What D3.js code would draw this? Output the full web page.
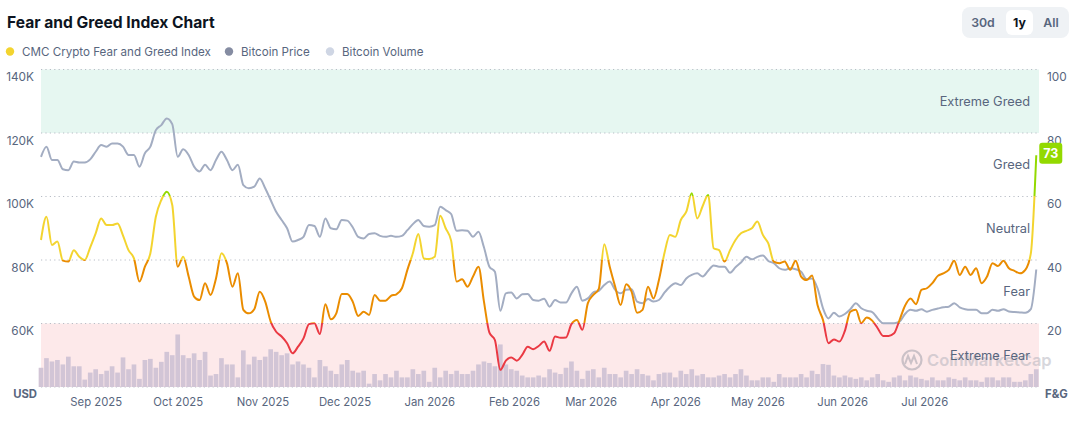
<!DOCTYPE html>
<html><head><meta charset="utf-8">
<script src="https://cdn.jsdelivr.net/npm/d3@7"></script>
<style>
html,body{margin:0;padding:0;background:#fff;}
svg{display:block;font-family:Inter,"Noto Sans",sans-serif;}
</style></head>
<body><svg id="c" width="1077" height="446"></svg>
<script>
// ---- data (2-day samples starting 2025-08-12) ----
const startDate = "2025-08-12";
const fearGreed = [46.3,53.6,44.7,45.8,39.8,39.5,43.1,41.0,40.0,44.0,48.4,53.1,51.0,51.0,51.5,47.7,43.1,40.5,33.2,37.9,42.1,53.6,58.9,61.5,57.3,37.9,41.0,34.8,28.5,27.4,32.7,29.0,34.2,42.1,39.0,31.6,35.8,24.3,23.2,24.5,30.0,26.9,20.6,17.4,15.9,13.8,
10.6,12.7,15.3,19.8,20.1,16.7,26.1,21.3,23.2,29.3,29.3,26.9,22.4,23.7,22.7,29.0,27.2,27.2,28.7,29.2,31.1,36.9,42.1,48.2,40.5,40.3,41.0,53.9,50.0,46.1,33.2,33.9,31.6,34.8,37.9,26.9,17.1,14.8,5.4,8.3,9.3,8.3,10.1,12.7,11.9,12.9,
14.3,11.4,15.9,15.5,15.6,19.8,21.1,18.0,26.4,29.0,30.9,45.0,37.9,31.6,25.8,32.4,30.0,23.4,24.3,31.6,27.9,33.7,42.1,47.9,47.3,52.6,55.2,61.0,53.1,57.0,60.5,43.7,43.1,39.5,43.1,46.3,48.4,49.2,50.0,52.1,47.9,45.2,39.5,39.0,39.5,36.9,
39.8,34.8,33.7,35.1,25.8,21.1,13.8,15.0,14.3,17.7,23.7,24.3,20.1,21.9,20.9,18.5,16.1,16.1,16.9,21.1,25.6,27.9,26.1,30.6,31.1,32.7,35.0,35.8,36.9,39.8,35.3,37.9,35.3,37.4,32.7,34.8,39.0,38.1,39.8,37.4,36.6,35.8,36.9,42.0,73];
const btcPriceK = [112.5,115.7,111.5,111.5,108.6,108.3,111.0,110.7,110.7,111.7,114.1,116.2,115.7,116.7,116.7,115.7,113.1,113.1,109.4,113.6,115.7,120.9,122.5,124.6,122.8,112.5,114.9,113.1,109.4,107.9,110.0,108.3,111.5,114.1,111.5,108.3,110.0,103.6,102.6,103.1,105.7,102.6,98.9,95.2,92.6,90.0,
85.8,86.3,87.3,91.0,90.7,87.3,93.1,90.0,89.7,92.6,92.4,90.3,87.3,86.8,88.2,88.4,87.6,87.3,87.6,87.3,87.6,89.4,91.3,92.6,90.7,90.5,91.0,96.8,95.7,94.5,89.2,89.4,89.2,87.3,88.9,84.0,77.9,76.3,64.0,69.5,69.8,67.9,69.2,69.3,67.4,67.2,
67.8,65.3,67.4,66.6,66.6,69.5,71.6,67.2,67.9,69.8,70.3,72.1,73.2,70.6,69.5,70.6,70.8,66.9,66.4,67.7,66.9,67.4,69.7,71.6,72.7,72.1,74.2,75.3,75.8,74.8,76.6,78.3,77.9,77.9,76.0,77.7,79.2,81.0,80.2,81.0,81.4,79.7,79.0,77.4,76.9,77.4,
77.1,76.3,74.0,74.2,71.1,64.8,61.6,63.4,62.2,63.0,64.5,66.4,64.8,64.0,63.6,61.6,60.1,60.1,60.1,60.6,63.0,64.3,64.0,64.5,63.7,64.3,64.7,65.1,65.3,66.4,65.1,64.5,64.3,64.3,63.2,63.2,64.3,64.0,64.5,63.8,63.6,63.5,63.4,64.5,77.0];
const btcVolumeB = [52,78,69,73,61,82,56,56,20,39,48,35,44,56,39,80,48,61,22,73,76,52,68,95,86,142,86,78,91,73,95,31,35,78,61,61,26,99,61,82,73,82,102,95,86,91,
61,69,61,52,26,73,56,44,35,61,73,44,39,44,9,35,18,35,26,44,26,26,48,35,44,14,52,26,44,35,44,35,35,44,61,69,65,56,115,61,48,44,31,26,26,31,
26,48,39,35,52,69,44,22,44,48,26,52,35,35,26,44,35,48,35,31,18,35,39,39,26,44,35,48,31,35,26,26,31,35,26,35,48,31,18,18,26,26,14,35,26,26,
26,35,26,44,35,62,60,31,26,31,26,22,26,18,26,35,18,14,26,31,18,31,26,22,18,26,18,18,26,22,18,26,18,18,14,26,26,18,26,26,14,14,18,35,48];
const monthTicks = ["2025-09-01","2025-10-01","2025-11-01","2025-12-01","2026-01-01","2026-02-01","2026-03-01","2026-04-01","2026-05-01","2026-06-01","2026-07-01"];
const priceTicks = [60,80,100,120,140];
const fgTicks = [20,40,60,80,100];
const zones = [
  {name:"Extreme Fear", lo:0, hi:20, color:"#ea3943"},
  {name:"Fear", lo:20, hi:40, color:"#ea8c00"},
  {name:"Neutral", lo:40, hi:60, color:"#f3d42f"},
  {name:"Greed", lo:60, hi:80, color:"#93d900"},
  {name:"Extreme Greed", lo:80, hi:100, color:"#16c784"}
];
const legendItems = [
  {label:"CMC Crypto Fear and Greed Index", color:"#f3d42f"},
  {label:"Bitcoin Price", color:"#858ca2"},
  {label:"Bitcoin Volume", color:"#cfd6e4"}
];
const ranges = ["30d","1y","All"];

// ---- build ----
const parse = d3.utcParse("%Y-%m-%d");
const t0 = parse(startDate);
const dates = fearGreed.map((_, i) => d3.utcDay.offset(t0, i * 2));
const rows = dates.map((d, i) => ({date:d, fg:fearGreed[i], price:btcPriceK[i], vol:btcVolumeB[i]}));

const svg = d3.select("#c");
const L = 41, R = 1039, T = 69.5, B = 387;
const x = d3.scaleUtc().domain([t0, d3.utcDay.offset(t0, 365)]).range([L, R]);
const yP = d3.scaleLinear().domain([40, 140]).range([B, T]);
const yF = d3.scaleLinear().domain([0, 100]).range([B, T]);
const yV = d3.scaleLinear().domain([0, 200]).range([B, B - 74]);
const textCol = "#58667e";

// title
svg.append("text").attr("x", 7).attr("y", 28).attr("font-size", 15.6).attr("font-weight", 700)
  .attr("fill", "#0d1421").text("Fear and Greed Index Chart");

// legend
const lgX = [10, 229, 330];
legendItems.forEach((it, i) => {
  svg.append("circle").attr("cx", lgX[i]).attr("cy", 51.5).attr("r", 4.2).attr("fill", it.color);
  svg.append("text").attr("x", lgX[i] + 12).attr("y", 55.8).attr("font-size", 11.6).attr("fill", textCol).text(it.label);
});

// range buttons
svg.append("rect").attr("x", 962).attr("y", 7).attr("width", 107).attr("height", 31).attr("rx", 8).attr("fill", "#eff2f5");
svg.append("rect").attr("x", 1006).attr("y", 10).attr("width", 27).attr("height", 25).attr("rx", 6).attr("fill", "#fff");
const rx = [983, 1019.5, 1051];
ranges.forEach((r, i) => {
  svg.append("text").attr("x", rx[i]).attr("y", 27).attr("text-anchor", "middle").attr("font-size", 12.3)
    .attr("font-weight", r === "1y" ? 700 : 600).attr("fill", r === "1y" ? "#0d1421" : textCol).text(r);
});

// bands
svg.append("rect").attr("x", L).attr("width", R - L).attr("y", yF(100)).attr("height", yF(80) - yF(100)).attr("fill", "#e6f7f1");
svg.append("rect").attr("x", L).attr("width", R - L).attr("y", yF(20)).attr("height", yF(0) - yF(20)).attr("fill", "#fde9ea");

// gridlines
svg.append("g").selectAll("line").data([0,20,40,60,80,100]).join("line")
  .attr("x1", L).attr("x2", R).attr("y1", d => yF(d)).attr("y2", d => yF(d))
  .attr("stroke", "#b8bdc6").attr("stroke-width", 1).attr("stroke-dasharray", "1.2,3.2");

// volume bars
const bw = x(dates[1]) - x(dates[0]);
svg.append("g").selectAll("rect").data(rows).join("rect")
  .attr("x", d => x(d.date) - bw / 2 + 0.4).attr("width", bw - 0.8)
  .attr("y", d => yV(d.vol)).attr("height", d => yV(0) - yV(d.vol))
  .attr("fill", "#d2c5d6");

// watermark
const wm = svg.append("g").attr("opacity", 0.5);
wm.append("circle").attr("cx", 912).attr("cy", 360).attr("r", 9.5).attr("fill", "none").attr("stroke", "#9a9aa6").attr("stroke-width", 2.2);
wm.append("path").attr("d", "M905,364 L908,356 L911,363 L914,356 L917,364").attr("fill", "none").attr("stroke", "#9a9aa6").attr("stroke-width", 2);
wm.append("text").attr("x", 927).attr("y", 366).attr("font-size", 16.5).attr("font-weight", 600).attr("fill", "#b0b0ba").text("CoinMarketCap");

// zone labels
svg.append("g").selectAll("text").data(zones).join("text")
  .attr("x", 1030).attr("y", d => yF((d.lo + d.hi) / 2) + 4.5).attr("text-anchor", "end")
  .attr("font-size", 12.8).attr("fill", textCol).text(d => d.name);

// price line
svg.append("path").datum(rows)
  .attr("d", d3.line().x(d => x(d.date)).y(d => yP(d.price)).curve(d3.curveMonotoneX))
  .attr("fill", "none").attr("stroke", "#a3adc2").attr("stroke-width", 2);

// F&G gradient line
const defs = svg.append("defs");
const grad = defs.append("linearGradient").attr("id", "fgGrad").attr("gradientUnits", "userSpaceOnUse")
  .attr("x1", 0).attr("x2", 0).attr("y1", yF(0)).attr("y2", yF(100));
zones.forEach(z => {
  grad.append("stop").attr("offset", z.lo / 100).attr("stop-color", z.color);
  grad.append("stop").attr("offset", z.hi / 100).attr("stop-color", z.color);
});
svg.append("path").datum(rows)
  .attr("d", d3.line().x(d => x(d.date)).y(d => yF(d.fg)).curve(d3.curveMonotoneX))
  .attr("fill", "none").attr("stroke", "url(#fgGrad)").attr("stroke-width", 2);

// axes
const leftAx = svg.append("g").attr("transform", `translate(${L - 4},0)`)
  .call(d3.axisLeft(yP).tickValues(priceTicks).tickFormat(d => d + "K").tickSize(0));
leftAx.select(".domain").remove();
leftAx.selectAll("text").attr("dy", "0.95em").attr("font-size", 11.8).attr("fill", textCol).attr("font-family", "Inter,sans-serif");
svg.append("text").attr("x", 37).attr("y", 397.5).attr("text-anchor", "end").attr("font-size", 11.3).attr("font-weight", 700).attr("fill", textCol).text("USD");

const rightAx = svg.append("g").attr("transform", `translate(${R + 5},0)`)
  .call(d3.axisRight(yF).tickValues(fgTicks).tickSize(0));
rightAx.select(".domain").remove();
rightAx.selectAll("text").attr("dy", "0.95em").attr("font-size", 11.8).attr("fill", textCol).attr("font-family", "Inter,sans-serif");
svg.append("text").attr("x", 1045).attr("y", 397.5).attr("font-size", 11.3).attr("font-weight", 700).attr("fill", textCol).text("F&G");

const bottomAx = svg.append("g").attr("transform", `translate(0,${B})`)
  .call(d3.axisBottom(x).tickValues(monthTicks.map(parse)).tickFormat(d3.utcFormat("%b %Y")).tickSize(0).tickPadding(11));
bottomAx.select(".domain").remove();
bottomAx.selectAll("text").attr("font-size", 11.3).attr("fill", textCol).attr("font-family", "Inter,sans-serif");

// last value badge
const last = rows[rows.length - 1];
const by = yF(last.fg) - 2;
svg.append("rect").attr("x", x(last.date) + 3).attr("y", by - 10.5).attr("width", 23).attr("height", 21).attr("rx", 3).attr("fill", "#93d900");
svg.append("text").attr("x", x(last.date) + 14.5).attr("y", by + 4.5).attr("text-anchor", "middle")
  .attr("font-size", 12.5).attr("font-weight", 700).attr("fill", "#fff").text(Math.round(last.fg));
</script></body></html>
